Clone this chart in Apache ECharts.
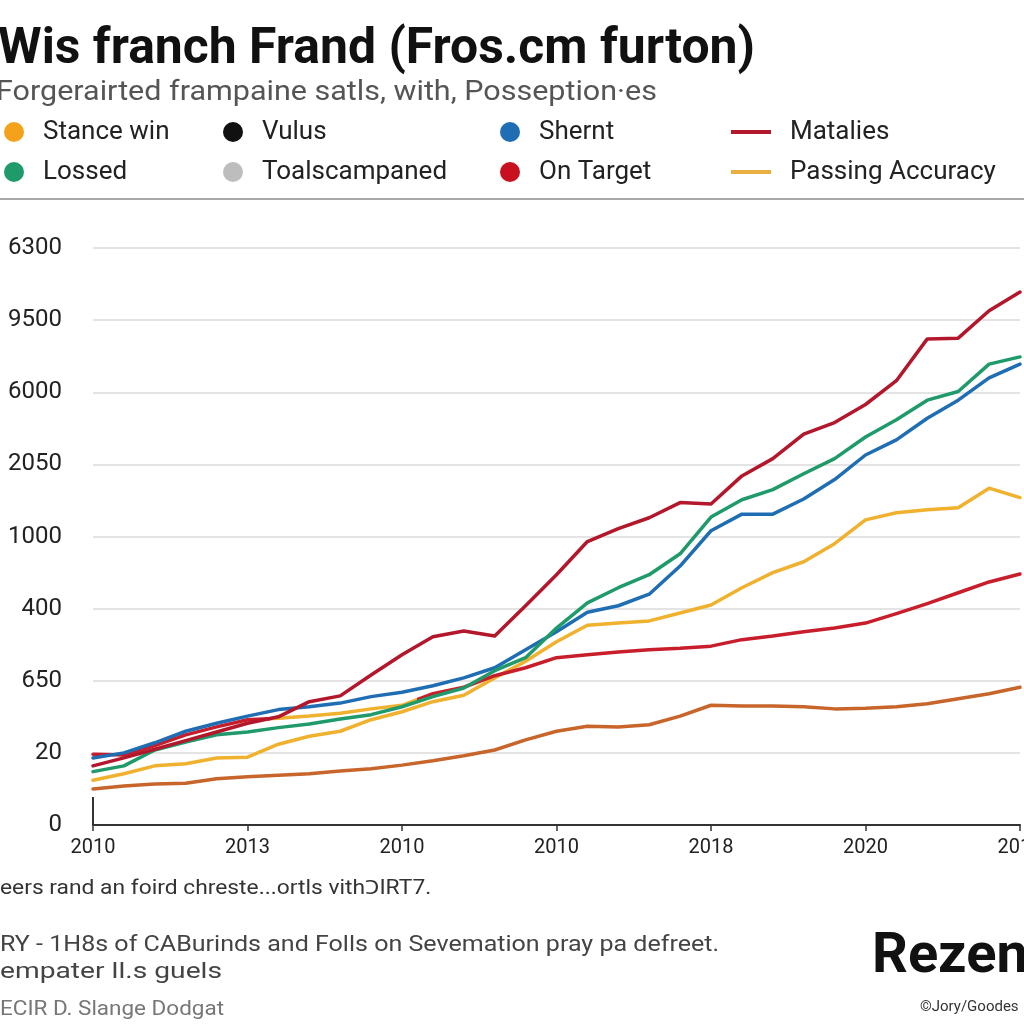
<!DOCTYPE html>
<html>
<head>
<meta charset="utf-8">
<script src="https://cdn.jsdelivr.net/npm/echarts@6/dist/echarts.min.js"></script>
<style>
html,body{margin:0;padding:0;background:#fff;}
#c{width:1024px;height:1024px;}
</style>
</head>
<body>
<div id="c"></div>
<script>
// ---- data ----
const xTicks = ['2010','2013','2010','2010','2018','2020','2017'];
const yTicks = ['0','20','650','400','1000','2050','6000','9500','6300'];
const xPos = [0,0.2,0.4,0.6,0.8,1,1.2,1.4,1.6,1.8,2,2.2,2.4,2.6,2.8,3,3.2,3.4,3.6,3.8,4,4.2,4.4,4.6,4.8,5,5.2,5.4,5.6,5.8,6];
const matalies = [0.82,0.93,1.05,1.17,1.29,1.41,1.50,1.71,1.79,2.08,2.36,2.61,2.69,2.62,3.04,3.47,3.93,4.11,4.26,4.47,4.45,4.84,5.08,5.42,5.58,5.83,6.16,6.74,6.75,7.13,7.39];
const lossed   = [0.74,0.82,1.04,1.15,1.25,1.29,1.35,1.40,1.47,1.53,1.64,1.78,1.90,2.14,2.32,2.73,3.08,3.29,3.47,3.76,4.27,4.51,4.65,4.87,5.08,5.38,5.62,5.89,6.01,6.39,6.49];
const shernt   = [0.93,1.00,1.14,1.30,1.41,1.51,1.60,1.64,1.69,1.78,1.84,1.93,2.04,2.18,2.43,2.68,2.95,3.04,3.20,3.59,4.08,4.31,4.31,4.52,4.79,5.13,5.34,5.64,5.89,6.20,6.39];
const onTarget = [0.98,0.97,1.10,1.25,1.36,1.46,1.48,1.51,1.55,1.61,1.66,1.82,1.91,2.07,2.18,2.32,2.36,2.40,2.43,2.45,2.48,2.57,2.62,2.68,2.73,2.80,2.93,3.07,3.22,3.37,3.48];
const passing  = [0.62,0.71,0.82,0.85,0.93,0.94,1.12,1.23,1.30,1.46,1.57,1.71,1.80,2.04,2.27,2.54,2.77,2.80,2.83,2.94,3.05,3.29,3.50,3.65,3.90,4.23,4.33,4.37,4.40,4.67,4.54];
const stance   = [0.50,0.54,0.57,0.58,0.64,0.67,0.69,0.71,0.75,0.78,0.83,0.89,0.96,1.04,1.18,1.30,1.37,1.36,1.39,1.51,1.66,1.65,1.65,1.64,1.61,1.62,1.64,1.68,1.75,1.82,1.91];

const titleText = 'Wis franch Frand (Fros.cm furton)';
const subtitleText = 'Forgerairted frampaine satls, with, Posseption·es';
const note1 = 'eers rand an foird chreste...ortls vith\u03FDIRT7.';
const note2 = 'RY - 1H8s of CABurinds and Folls on Sevemation pray pa defreet.';
const note3 = 'empater ll.s guels';
const note4 = 'ECIR D. Slange Dodgat';
const brand = 'Rezen';
const credit = '\u00A9Jory/Goodes';

// ---- helpers ----
const FF = 'Roboto, "Noto Sans", sans-serif';
const mctx = document.createElement('canvas').getContext('2d');
function fitScale(text, weight, size, width) {
  mctx.font = weight + ' ' + size + 'px Roboto';
  const w = mctx.measureText(text).width;
  return w > 0 ? width / w : 1;
}
function txt(text, x, y, size, weight, color, width) {
  const s = width ? fitScale(text, weight, size, width) : 1;
  return {
    type: 'text', x: x, y: y, scaleX: s, z: 100,
    style: { text: text, fontSize: size, fontWeight: weight, fontFamily: FF, fill: color, verticalAlign: 'middle', align: 'left' }
  };
}
function pts(arr) { return arr.map((v, i) => [xPos[i], v]); }
function line(name, data, color) {
  const ls = { width: 3.5, cap: 'round', join: 'round' };
  if (color) ls.color = color;
  const s = { name: name, type: 'line', data: pts(data), symbol: 'none', smooth: false, lineStyle: ls };
  if (color) s.itemStyle = { color: color };
  return s;
}

const legendText = { fontSize: 26, color: '#222', fontFamily: FF, lineHeight: 28, padding: [0, 0, 0, 14] };
function legendCol(left, items, isLine) {
  return {
    orient: 'vertical', left: left, top: 118, padding: 0, itemGap: 12,
    icon: isLine ? 'rect' : 'circle',
    itemWidth: isLine ? 40 : 20, itemHeight: isLine ? 4 : 20,
    textStyle: legendText,
    selectedMode: false,
    data: items
  };
}

const chart = echarts.init(document.getElementById('c'), null, { renderer: 'canvas' });
chart.setOption({
  animation: false,
  backgroundColor: '#ffffff',
  grid: { left: 93, right: 4, top: 248, bottom: 199, containLabel: false, outerBoundsMode: 'none' },
  xAxis: {
    type: 'value', min: 0, max: 6, interval: 1,
    axisLine: { show: true, lineStyle: { color: '#333', width: 2 } },
    axisTick: { show: true, length: 6, lineStyle: { color: '#333', width: 1.5 } },
    splitLine: { show: false },
    axisLabel: { fontSize: 20, color: '#222', fontFamily: FF, margin: 13, showMaxLabel: true,
      formatter: v => xTicks[Math.round(v)] || '' }
  },
  yAxis: {
    type: 'value', min: 0, max: 8, interval: 1,
    axisLine: { show: false }, axisTick: { show: false },
    splitLine: { show: true, lineStyle: { color: '#e4e4e4', width: 2 } },
    axisLabel: { fontSize: 24, color: '#222', fontFamily: FF, margin: 31,
      formatter: v => yTicks[Math.round(v)] || '' }
  },
  visualMap: [{
    type: 'piecewise', show: false, dimension: 0, seriesIndex: 2,
    pieces: [
      { lt: 1.15, color: '#c81d2a' },
      { gte: 1.15, lt: 2.1, color: '#f0b12e' },
      { gte: 2.1, color: '#c81d2a' }
    ]
  }],
  legend: [
    legendCol(4, [{ name: 'Stance win', itemStyle: { color: '#f4a21c' } }, { name: 'Lossed', itemStyle: { color: '#1f9a6b' } }], false),
    legendCol(223, [{ name: 'Vulus', itemStyle: { color: '#111111' } }, { name: 'Toalscampaned', itemStyle: { color: '#bdbdbd' } }], false),
    legendCol(500, [{ name: 'Shernt', itemStyle: { color: '#1f6db3' } }, { name: 'On Target', itemStyle: { color: '#c8101e' } }], false),
    legendCol(731, [{ name: 'Matalies', itemStyle: { color: '#b3172b' } }, { name: 'Passing Accuracy', itemStyle: { color: '#e9b040' } }], true)
  ],
  series: [
    line('Stance win', stance, '#c8652b'),
    line('Passing Accuracy', passing, '#f0b12e'),
    line('On Target', onTarget, null),
    line('Shernt', shernt, '#1f6db3'),
    line('Lossed', lossed, '#1f9a6b'),
    line('Matalies', matalies, '#b3172b'),
    { name: 'Vulus', type: 'line', data: [], itemStyle: { color: '#111' } },
    { name: 'Toalscampaned', type: 'line', data: [], itemStyle: { color: '#bdbdbd' } }
  ],
  graphic: [
    txt(titleText, -2, 50, 50, 'bold', '#111', 757),
    txt(subtitleText, -4, 93, 27, 'normal', '#555', 661),
    { type: 'line', shape: { x1: 0, y1: 199, x2: 1024, y2: 199 }, style: { stroke: '#a8a8a8', lineWidth: 2 } },
    { type: 'line', shape: { x1: 93, y1: 797, x2: 93, y2: 825 }, style: { stroke: '#333', lineWidth: 2 } },
    txt(note1, 0, 889, 20, 'normal', '#333', 432),
    txt(note2, 0, 945, 22, 'normal', '#444', 719),
    txt(note3, 0, 972, 22, 'normal', '#444', 222),
    txt(note4, 0, 1010, 21, 'normal', '#777', 224),
    txt(brand, 872, 958, 56, 'bold', '#111', null),
    txt(credit, 920, 1007, 15, 'normal', '#333', null)
  ]
});
</script>
</body>
</html>
